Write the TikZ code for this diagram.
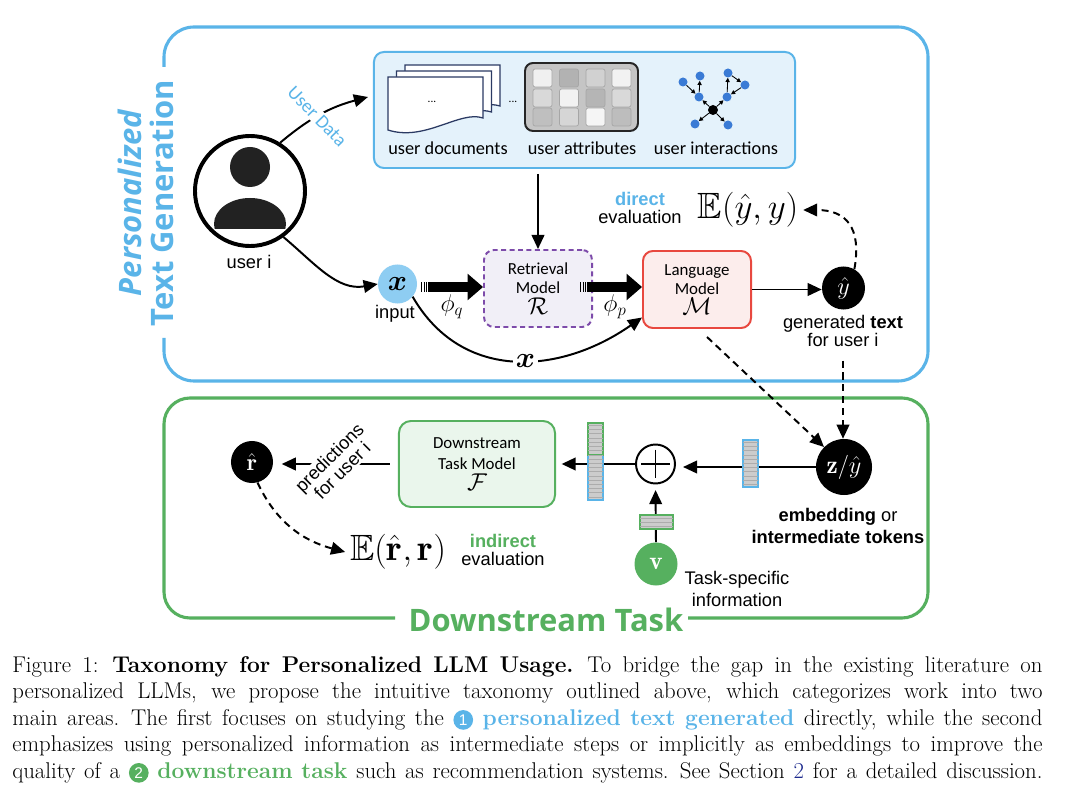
\documentclass[tikz,border=0pt]{standalone}
\usepackage{amsmath}
\usepackage{amssymb}
\usepackage{fontspec}
\newfontfamily\helv{Liberation Sans}
\newfontfamily\calib{Carlito}
\newfontfamily\osans{Open Sans}
\usetikzlibrary{arrows.meta,patterns}

\definecolor{ptgblue}{HTML}{5AB4E8}
\definecolor{dsgreen}{HTML}{56B05F}
\definecolor{databg}{HTML}{E4F2FB}
\definecolor{inpblue}{HTML}{8ECDF2}
\definecolor{retrpurple}{HTML}{7D4BAA}
\definecolor{retrbg}{HTML}{F1EFF7}
\definecolor{lmred}{HTML}{E8483F}
\definecolor{lmbg}{HTML}{FCEDEC}
\definecolor{dsbg}{HTML}{EAF6EC}
\definecolor{graphblue}{HTML}{3A7BD5}
\definecolor{pagenavy}{HTML}{2B3A63}
\definecolor{usergray}{HTML}{222222}
\definecolor{attrgray}{HTML}{C5C5C5}
\definecolor{secblue}{HTML}{1F2C8F}

\tikzset{
  frame/.style={line width=2.2pt, rounded corners=0.75cm},
  framelabel/.style={font=\osans\bfseries\fontsize{22}{22.8}\selectfont, align=center},
  model/.style={rectangle, rounded corners=0.25cm, line width=1.4pt, minimum width=2.7cm,
    minimum height=1.925cm, align=center, font=\calib\fontsize{12}{13.5}\selectfont},
  token/.style={circle, fill=black, text=white, inner sep=0pt},
  lbl/.style={font=\helv\fontsize{13}{13}\selectfont, align=center, inner sep=1pt},
  icolbl/.style={font=\calib\fontsize{13}{14}\selectfont},
  arr/.style={-{Triangle[length=10pt,width=9pt]}, line width=1.4pt},
  dasharr/.style={arr, dash pattern=on 5pt off 3.5pt},
  fatarr/.style={-{Triangle[length=11pt,width=19pt,line width=0pt]}, line width=7.5pt},
  tail/.style={line width=7.5pt, dash pattern=on 0.9pt off 0.9pt},
  vecbar/.style={rectangle, inner sep=0pt, line width=0.9pt, fill=gray!40,
    postaction={pattern=horizontal lines, pattern color=gray!65}},
  gnode/.style={circle, fill=graphblue, inner sep=0pt, minimum size=0.225cm},
  gedge/.style={-{Triangle[length=3pt,width=3pt]}, line width=0.6pt},
  cell/.style={rounded corners=1.5pt, draw=gray!70, line width=0.5pt},
  page/.style={fill=white, draw=pagenavy, line width=0.9pt},
  capline/.style={anchor=north west, inner sep=0pt, text width=25.75cm, align=left,
    font=\fontsize{16.2}{18.85}\selectfont},
}

\newcommand{\numbadge}[2]{\tikz[baseline=(nb.base)]\node[circle, fill=#1, text=white, inner sep=0pt,
  minimum size=14pt, font=\helv\fontsize{11}{11}\selectfont] (nb) {#2};}
\newcommand{\fullline}[1]{{\spaceskip=0.333em plus 0.5em minus 0.12em\xspaceskip=0.44em plus 0.5em minus 0.12em\relax
  \hbox to 25.75cm{#1}}}

\begin{document}
\begin{tikzpicture}[x=0.025cm, y=0.025cm]
  \fill[white] (0,0) rectangle (1080,-793);
  \useasboundingbox (0,0) rectangle (1080,-793);

  % the two frames
  \draw[frame, ptgblue] (164,-338) -- (164,-381) -- (928,-381) -- (928,-27) -- (164,-27) -- (164,-67);
  \node[framelabel, text=ptgblue, rotate=90] (ptg) at (146,-203) {{\itshape Personalized}\\Text Generation};
  \draw[frame, dsgreen, rounded corners=0.65cm] (395,-618) -- (164,-618) -- (164,-398) -- (928,-398) -- (928,-618) -- (688,-618);
  \node[framelabel, text=dsgreen] (dst) at (546,-620) {Downstream Task};

  % user data box
  \node[rectangle, rounded corners=0.25cm, draw=ptgblue, line width=1.4pt, fill=databg,
    minimum width=10.525cm, minimum height=2.9cm] (data) at (584.5,-110) {};
  \draw[page] (405,-65) -- (500,-65) -- (500,-106) .. controls (477,-98) and (442,-130) .. (405,-118) -- cycle;
  \draw[page] (396.5,-71) -- (491.5,-71) -- (491.5,-112) .. controls (468.5,-104) and (433.5,-136) .. (396.5,-124) -- cycle;
  \draw[page] (388,-77) -- (483,-77) -- (483,-118) .. controls (460,-110) and (425,-142) .. (388,-130) -- cycle;
  \node[font=\calib\fontsize{8}{8}\selectfont] (docdots) at (432,-102) {...};
  \node[font=\calib\fontsize{8}{8}\selectfont] (gapdots) at (513,-102) {...};

  \draw[fill=attrgray, draw=black!85, line width=1.4pt, rounded corners=0.2cm] (525,-63) rectangle (638,-131);
  \draw[cell, fill=black!6] (533,-69) rectangle ++(19,-18);
  \draw[cell, fill=black!15] (533,-89) rectangle ++(19,-18);
  \draw[cell, fill=black!25] (533,-108) rectangle ++(19,-18);
  \draw[cell, fill=black!30] (559.5,-69) rectangle ++(19,-18);
  \draw[cell, fill=black!5] (559.5,-89) rectangle ++(19,-18);
  \draw[cell, fill=black!16] (559.5,-108) rectangle ++(19,-18);
  \draw[cell, fill=black!18] (586,-69) rectangle ++(19,-18);
  \draw[cell, fill=black!29] (586,-89) rectangle ++(19,-18);
  \draw[cell, fill=black!4] (586,-108) rectangle ++(19,-18);
  \draw[cell, fill=black!5] (612,-69) rectangle ++(19,-18);
  \draw[cell, fill=black!15] (612,-89) rectangle ++(19,-18);
  \draw[cell, fill=black!26] (612,-108) rectangle ++(19,-18);

  \node[circle, fill=black, inner sep=0pt, minimum size=0.25cm] (gc) at (713,-110) {};
  \node[gnode] (ga1) at (683,-82) {};
  \node[gnode] (ga2) at (700,-76) {};
  \node[gnode] (ga3) at (699,-97) {};
  \node[gnode] (gb1) at (728,-73) {};
  \node[gnode] (gb2) at (745,-85) {};
  \node[gnode] (gb3) at (727,-97) {};
  \node[gnode] (gd1) at (695,-124) {};
  \node[gnode] (gd2) at (728,-125) {};
  \draw[gedge] (gc) -- (ga3);
  \draw[gedge] (gc) -- (gb3);
  \draw[gedge] (gc) -- (gd1);
  \draw[gedge] (gc) -- (gd2);
  \draw[gedge] (ga1) -- (ga3);
  \draw[gedge] (ga3) -- (ga2);
  \draw[gedge] (gb3) -- (gb1);
  \draw[gedge] (gb1) -- (gb2);
  \draw[gedge] (gb2) -- (gb3);

  \node[icolbl] (ldoc) at (448,-148) {user documents};
  \node[icolbl] (lattr) at (582,-148) {user attributes};
  \node[icolbl] (lint) at (716,-148) {user interactions};

  % user i
  \node[circle, draw, line width=2.8pt, minimum size=2.75cm] (user) at (250,-191) {};
  \fill[usergray] (250,-167) circle[radius=20];
  \begin{scope}
    \clip (200,-229) rectangle (300,-190);
    \fill[usergray] (250,-224) ellipse[x radius=36, y radius=26];
  \end{scope}
  \node[lbl] (useri) at (249,-262) {user i};
  \draw[arr] (user.58) to[out=40, in=195] node[pos=0.45, rotate=-46, fill=white, inner sep=1pt, text=ptgblue,
    font=\calib\fontsize{13.5}{13.5}\selectfont] (udata) {User Data} ([shift={(-5,13)}]data.west);

  % generation row
  \node[circle, fill=inpblue, minimum size=0.975cm, inner sep=0pt, font=\fontsize{20}{20}\selectfont] (inp) at (397.5,-284) {$\boldsymbol{x}$};
  \node[lbl] (inpl) at (395,-314) {input};
  \draw[arr] (user.-54) to[out=-40, in=190] (inp.west);

  \node[model, draw=retrpurple, fill=retrbg, dash pattern=on 3.5pt off 2.5pt] (retr) at (538,-288.5)
    {Retrieval\\Model\\[1pt]{\fontsize{17}{17}\selectfont$\mathcal{R}$}};
  \node[model, draw=lmred, fill=lmbg] (lm) at (697,-289.5)
    {Language\\Model\\[1pt]{\fontsize{17}{17}\selectfont$\mathcal{M}$}};
  \draw[arr] ([shift={(0,-5)}]data.south -| retr.north) -- (retr.north);

  \coordinate (fq) at (421,-287);
  \coordinate (fp) at (580,-287);
  \draw[tail] (fq) -- ++(7,0);
  \draw[fatarr] ([shift={(7,0)}]fq) -- (fq -| retr.west);
  \draw[tail] (fp) -- ++(7,0);
  \draw[fatarr] ([shift={(7,0)}]fp) -- (fp -| lm.west);
  \node[font=\fontsize{17}{17}\selectfont] (phiq) at (452,-307) {$\phi_q$};
  \node[font=\fontsize{17}{17}\selectfont] (phip) at (615,-307) {$\phi_p$};

  \draw[arr] (inp.-40) to[out=-60, in=215, looseness=1.1] node[pos=0.54, fill=white, inner sep=2pt,
    font=\fontsize{21}{21}\selectfont] (xskip) {$\boldsymbol{x}$} ([shift={(0,-28)}]lm.west);

  \node[token, minimum size=1.075cm, font=\fontsize{18}{18}\selectfont] (yhat) at (843.5,-288) {$\hat{y}$};
  \draw[arr] (lm.east) -- (lm.east -| yhat.west);
  \node[lbl] (gen) at (843,-331) {generated \textbf{text}\\for user i};

  \node[lbl] (direct) at (640,-208) {\textcolor{ptgblue}{\textbf{direct}}\\evaluation};
  \node[font=\fontsize{26}{26}\selectfont] (evy) at (748,-210) {$\mathbb{E}(\hat{y},y)$};
  \draw[dasharr] (yhat.60) to[out=80, in=0, looseness=1.4] (evy.east);

  % downstream row
  \node[token, minimum size=1.4cm, font=\fontsize{18}{18}\selectfont] (zy) at (844,-467) {$\mathbf{z}/\hat{y}$};
  \draw[dasharr] ([shift={(0,-12)}]gen.south) -- (gen.south |- zy.north);
  \draw[dasharr] ([shift={(10,-8)}]lm.south) -- (zy.135);
  \node[lbl, font=\helv\fontsize{13}{15}\selectfont] (embl) at (838,-526) {\textbf{embedding} or\\\textbf{intermediate tokens}};

  \node[circle, draw, line width=1.4pt, fill=white, minimum size=0.975cm] (oplus) at (655.5,-464) {};
  \draw[line width=1.4pt] ([shift={(0,-6)}]oplus.north) -- ([shift={(0,6)}]oplus.south);
  \draw[line width=1.4pt] ([shift={(6,0)}]oplus.west) -- ([shift={(-6,0)}]oplus.east);
  \draw[arr, shorten >=5pt] (zy.west) -- (zy.west -| oplus.east);
  \node[vecbar, draw=ptgblue, minimum width=0.375cm, minimum height=1.175cm] (vemb) at (750.5,-463.5) {};

  \node[circle, fill=dsgreen, text=white, minimum size=1.075cm, inner sep=0pt, font=\fontsize{18}{18}\selectfont] (vtask) at (656,-564) {$\mathbf{v}$};
  \draw[arr, shorten >=4pt] (vtask.north) -- (oplus.south);
  \node[vecbar, draw=dsgreen, minimum width=0.825cm, minimum height=0.35cm] (vvec) at (656.5,-522) {};
  \node[lbl, font=\helv\fontsize{13}{16}\selectfont] (taskinfo) at (737,-589) {Task-specific\\information};

  \node[model, draw=dsgreen, fill=dsbg, minimum width=3.9cm, minimum height=2.15cm, rounded corners=0.3cm,
    font=\calib\fontsize{12}{15}\selectfont] (dtm) at (477,-464) {Downstream\\Task Model\\{\fontsize{17}{17}\selectfont$\mathcal{F}$}};
  \draw[arr, shorten >=4pt] (oplus.west) -- (oplus.west -| dtm.east);
  \node[vecbar, draw=ptgblue, minimum width=0.375cm, minimum height=1.125cm] (vcat) at (595.5,-477.5) {};
  \node[vecbar, draw=dsgreen, minimum width=0.375cm, minimum height=0.8cm] (vcattop) at (595.5,-439) {};

  \node[token, minimum size=1.05cm, font=\fontsize{17}{17}\selectfont] (rhat) at (252,-462) {$\hat{\mathbf{r}}$};
  \draw[arr, shorten <=6pt, shorten >=6pt] (dtm.west) -- node[lbl, rotate=45, fill=white] (pred)
    {predictions\\for user i} (dtm.west -| rhat.east);
  \node[font=\fontsize{26}{26}\selectfont] (evr) at (398,-552) {$\mathbb{E}(\hat{\mathbf{r}},\mathbf{r})$};
  \draw[dasharr] (rhat.-75) to[out=-65, in=165] (evr.west);
  \node[lbl] (indirect) at (503,-550) {\textcolor{dsgreen}{\textbf{indirect}}\\evaluation};

  % caption
  \node[capline] (cap) at (12,-656) {%
    \fullline{Figure 1: \textbf{Taxonomy for Personalized LLM Usage.} To bridge the gap in the existing literature on}
    \fullline{personalized LLMs, we propose the intuitive taxonomy outlined above, which categorizes work into two}
    \fullline{main areas. The first focuses on studying the \numbadge{ptgblue}{1} \textcolor{ptgblue}{\textbf{personalized text generated}} directly, while the second}
    \fullline{emphasizes using personalized information as intermediate steps or implicitly as embeddings to improve the}
    \fullline{quality of a \numbadge{dsgreen}{2} \textcolor{dsgreen}{\textbf{downstream task}} such as recommendation systems. See Section \textcolor{secblue}{2} for a detailed discussion.}};
\end{tikzpicture}
\end{document}
